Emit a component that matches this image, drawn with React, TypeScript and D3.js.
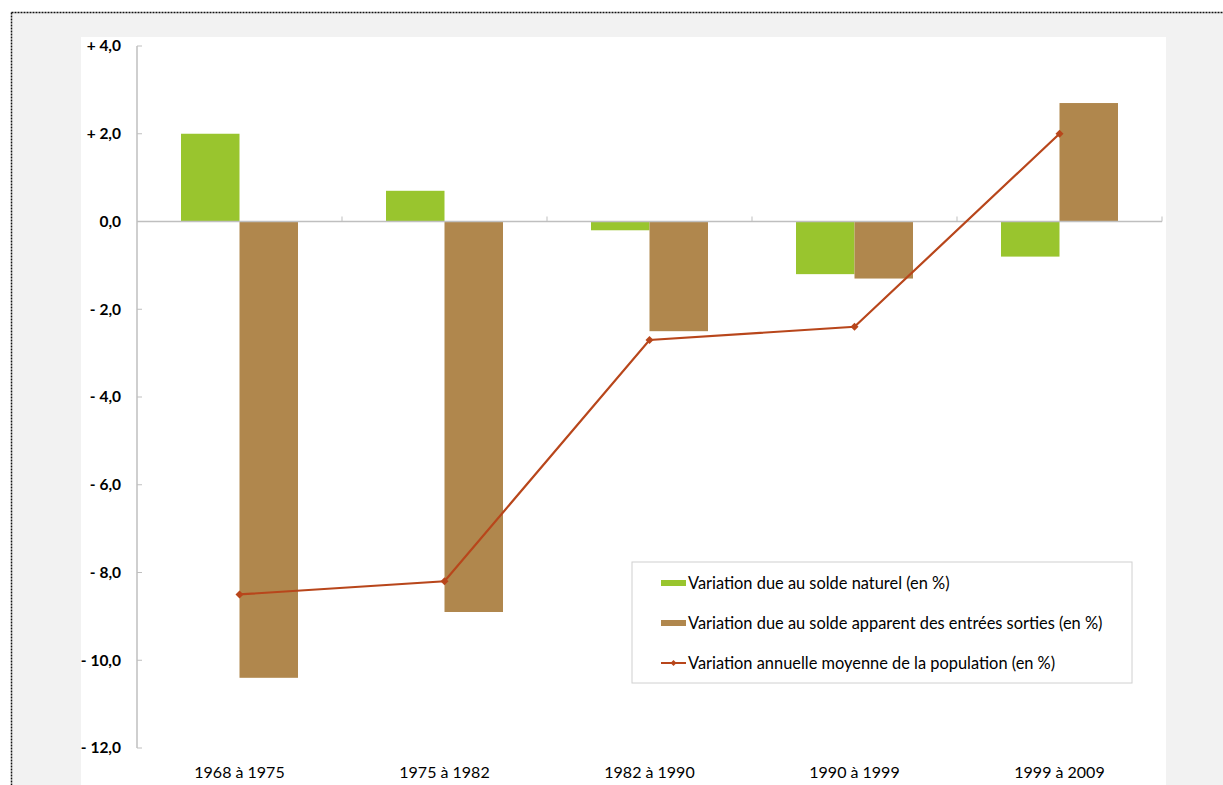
import React from "react";
import * as d3 from "d3";

const categories = ["1968 à 1975", "1975 à 1982", "1982 à 1990", "1990 à 1999", "1999 à 2009"];
const soldeNaturel = [2.0, 0.7, -0.2, -1.2, -0.8];
const soldeMigratoire = [-10.4, -8.9, -2.5, -1.3, 2.7];
const variationAnnuelle = [-8.5, -8.2, -2.7, -2.4, 2.0];
const yTicks = [4, 2, 0, -2, -4, -6, -8, -10, -12];
const legendLabels = [
  "Variation due au solde naturel (en %)",
  "Variation due au solde apparent des entrées sorties (en %)",
  "Variation annuelle moyenne de la population (en %)",
];

const GREEN = "#99c52e";
const BROWN = "#b0874d";
const LINE = "#b8461b";
const AXIS = "#bfbfbf";
const FONT = "Lato, 'Open Sans', sans-serif";

function fmt(v: number) {
  const s = Math.abs(v).toFixed(1).replace(".", ",");
  if (v > 0) return "+ " + s;
  if (v < 0) return "- " + s;
  return s;
}

export default function App() {
  const W = 1223, H = 785;
  const x0 = 137, x1 = 1162;
  const y = d3.scaleLinear().domain([-12, 4]).range([748, 46]);
  const xBand = d3.scaleBand<string>().domain(categories).range([x0, x1]).paddingInner(0).paddingOuter(0);
  const bw = 58.5;
  const cx = (c: string) => (xBand(c) as number) + xBand.bandwidth() / 2;
  const line = d3.line<number>()
    .x((_, i) => cx(categories[i]))
    .y((d) => y(d));
  const diamond = (px: number, py: number, r = 3.5) =>
    `M${px},${py - r}L${px + r},${py}L${px},${py + r}L${px - r},${py}Z`;

  const lgX = 632, lgY = 562, lgW = 500, lgH = 121;

  return (
    <svg width={W} height={H} style={{ position: "absolute", left: 0, top: 0 }} fontFamily={FONT}>
      <rect x={0} y={0} width={W} height={H} fill="#ffffff" />
      <rect x={12} y={13} width={W - 12} height={H - 13} fill="#f2f2f2" />
      <line x1={11.5} y1={12.5} x2={W} y2={12.5} stroke="#111" strokeWidth={1.5} strokeDasharray="2,1" />
      <line x1={11.5} y1={12.5} x2={11.5} y2={H} stroke="#111" strokeWidth={1.5} strokeDasharray="2,1" />
      <rect x={81} y={37} width={1085} height={H - 37} fill="#ffffff" />

      {/* y axis */}
      <line x1={x0} x2={x0} y1={y(4)} y2={y(-12)} stroke={AXIS} strokeWidth={1.5} />
      {yTicks.map((t) => (
        <g key={t}>
          <line x1={x0} x2={x0 + 5} y1={y(t)} y2={y(t)} stroke={AXIS} strokeWidth={1} />
          <text x={121} y={y(t)} dy="0.35em" textAnchor="end" fontSize={15.5} fontWeight="bold" fill="#000">
            {fmt(t)}
          </text>
        </g>
      ))}

      {/* bars */}
      {categories.map((c, i) => {
        const m = cx(c);
        const g = soldeNaturel[i];
        const b = soldeMigratoire[i];
        return (
          <g key={c}>
            <rect x={m - bw} width={bw} y={Math.min(y(g), y(0))} height={Math.abs(y(g) - y(0))} fill={GREEN} />
            <rect x={m} width={bw} y={Math.min(y(b), y(0))} height={Math.abs(y(b) - y(0))} fill={BROWN} />
          </g>
        );
      })}

      {/* zero axis */}
      <line x1={x0} x2={x1} y1={y(0)} y2={y(0)} stroke={AXIS} strokeWidth={1.5} />
      {d3.range(1, categories.length + 1).map((k) => {
        const xx = x0 + k * xBand.bandwidth();
        return <line key={k} x1={xx} x2={xx} y1={y(0) - 5} y2={y(0)} stroke={AXIS} strokeWidth={1} />;
      })}

      {/* line */}
      <path d={line(variationAnnuelle) || ""} fill="none" stroke={LINE} strokeWidth={2.2} />
      {variationAnnuelle.map((v, i) => (
        <path key={i} d={diamond(cx(categories[i]), y(v), 4)} fill={LINE} />
      ))}

      {/* x labels */}
      {categories.map((c) => (
        <text key={c} x={cx(c)} y={772} dy="0.35em" textAnchor="middle" fontSize={16} fill="#000">
          {c}
        </text>
      ))}

      {/* legend */}
      <rect x={lgX} y={lgY} width={lgW} height={lgH} fill="#ffffff" stroke="#d0d0d0" strokeWidth={1} />
      {legendLabels.map((l, i) => {
        const ly = 583 + i * 40;
        return (
          <g key={l}>
            {i < 2 ? (
              <rect x={661} y={ly - 3} width={25} height={6} fill={i === 0 ? GREEN : BROWN} />
            ) : (
              <g>
                <line x1={661} x2={686} y1={ly} y2={ly} stroke={LINE} strokeWidth={2} />
                <path d={diamond(673.5, ly, 3)} fill={LINE} />
              </g>
            )}
            <text x={688} y={ly} dy="0.35em" fontSize={16.4} fill="#000">
              {l}
            </text>
          </g>
        );
      })}
    </svg>
  );
}
